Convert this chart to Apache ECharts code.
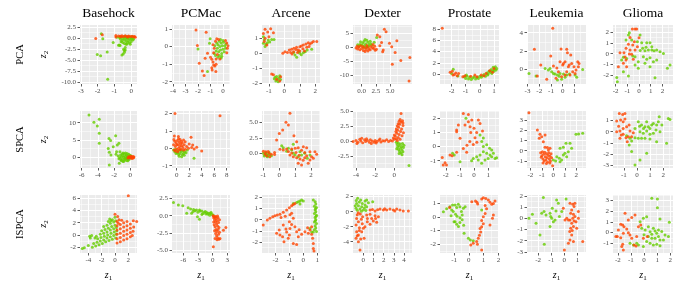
<!DOCTYPE html>
<html><head><meta charset="utf-8">
<script src="https://cdn.jsdelivr.net/npm/echarts@6/dist/echarts.min.js"></script>
<style>html,body{margin:0;padding:0;background:#fff}#c{width:680px;height:290px}</style>
</head><body><div id="c"></div>
<script>
// ---------------- data ----------------
const methods = ['PCA','SPCA','ISPCA'];
const datasets = ['Basehock','PCMac','Arcene','Dexter','Prostate','Leukemia','Glioma'];

// PCA row
const basehock_pca_green = [[-1.78,0.9],[-1.69,-0.23],[-1.07,-1.06],[-1.43,-3.26],[-2.02,-3.8],[-1.82,-4.1],[-1.4,-9.4],[-0.75,-1.7],[-0.7,-1.65],[-0.66,-1.75],[-0.45,-2.6],[-0.4,-2.9],[-0.35,-2.75],[-0.4,-3.3],[-0.55,-3.9],[-0.47,-3.7],[-0.35,-2.2],[-0.3,-1.5],[-0.6,0.1],[-0.5,-0.2],[-0.45,0.2],[-0.4,-0.5],[-0.35,-0.1],[-0.3,-0.8],[-0.3,0.2],[-0.25,-0.3],[-0.2,-1.0],[-0.2,0.0],[-0.15,-0.6],[-0.1,-0.2],[-0.1,-1.2],[-0.05,0.1],[0.0,-0.4],[0.0,-0.9],[0.05,-0.1],[0.1,-0.5],[0.1,0.15],[0.15,-0.3],[-0.55,-0.6],[-0.65,-0.3],[-0.7,0.05],[-0.85,0.1],[-0.5,-1.1],[-0.4,-1.3],[-0.25,-1.4],[-0.05,-1.5],[-0.15,0.3],[0.05,0.25],[-0.35,0.35],[-0.6,-0.9]];
const basehock_pca_red = [[-2.11,-0.15],[-1.72,0.68],[-0.91,0.53],[-0.91,0.2],[-0.75,0.4],[-0.65,0.35],[-0.55,0.45],[-0.45,0.3],[-0.35,0.45],[-0.25,0.3],[-0.15,0.4],[-0.05,0.3],[0.05,0.35],[0.15,0.25],[0.25,0.1],[0.2,0.3],[-0.6,0.25],[-0.2,0.15]];
const pcmac_pca_green = [[-2.0,-0.13],[-1.24,-1.42],[-1.03,0.44],[-1.08,0.19],[-0.6,-0.5],[-0.5,0.2],[-0.45,-0.1],[-0.4,0.1],[-0.35,-0.3],[-0.3,0.3],[-0.25,0.0],[-0.2,-0.2],[-0.15,0.2],[-0.1,-0.4],[-0.05,0.05],[0.0,-0.15],[0.05,0.25],[0.1,-0.3],[0.15,0.05],[0.2,-0.1],[-0.55,-0.25],[-0.3,-0.5],[-0.2,0.4],[0.0,0.35],[-0.65,0.05],[-0.4,-0.6],[0.25,0.15],[-0.1,-0.55],[-0.7,-0.4],[-0.15,-0.65]];
const pcmac_pca_red = [[-2.16,0.95],[-2.05,0.06],[-1.35,0.82],[-1.9,-0.95],[-1.65,-1.39],[-1.51,-1.65],[-1.24,-0.38],[-1.43,-0.66],[-1.0,-0.6],[-0.9,-0.72],[-0.8,-0.87],[-0.75,-1.05],[-0.9,-1.2],[-0.65,-1.1],[-0.87,-1.33],[-0.55,-1.0],[-0.57,-1.42],[-0.7,-0.1],[-0.6,0.3],[-0.5,0.45],[-0.8,0.1],[-0.45,-0.45],[-0.35,0.4],[0.3,0.2],[0.35,-0.1],[0.3,-0.35],[-0.55,-0.7],[-0.75,-0.35],[0.2,0.35],[-0.25,-0.7],[0.4,0.05]];
const arcene_pca_green = [[-1.36,1.11],[-1.04,0.89],[-0.82,0.93],[-0.67,0.93],[-1.36,0.67],[-1.19,0.6],[-1.1,0.71],[-1.25,0.45],[-1.3,0.9],[-0.95,0.75],[-0.6,-1.6],[-0.5,-1.55],[-0.45,-1.75],[-0.35,-1.65],[-0.55,-1.85],[-0.4,-1.9],[-0.25,-1.75],[-0.65,-1.7],[-0.3,-1.5],[0.69,-0.11],[0.8,-0.27],[1.0,0.0],[1.23,0.04],[1.48,0.22],[1.77,0.27],[0.92,0.11],[1.1,-0.1],[1.35,0.1],[0.6,0.05]];
const arcene_pca_red = [[-1.25,1.6],[-0.89,1.64],[-0.71,1.38],[-1.36,1.33],[-1.08,1.42],[-1.0,1.11],[-1.3,0.78],[-1.14,0.56],[-1.25,1.0],[-0.82,-1.38],[-0.71,-1.44],[-0.24,-1.56],[-0.5,-1.73],[-0.3,-1.85],[-0.1,0.0],[0.04,0.11],[0.32,0.22],[0.47,0.27],[0.62,0.33],[0.79,0.4],[0.9,0.22],[1.0,0.44],[1.1,0.49],[1.23,0.56],[1.4,0.62],[1.55,0.71],[1.66,0.62],[1.77,0.71],[1.88,0.78],[2.1,0.78],[0.6,0.1],[0.85,0.05],[1.2,0.3],[1.45,0.4],[0.4,0.05],[1.0,0.15],[0.75,0.25],[1.3,0.15],[1.6,0.45],[0.2,0.05],[0.5,-0.05]];
const dexter_pca_green = [[0.0,0.8],[0.2,1.5],[0.4,2.2],[0.5,0.5],[0.7,1.2],[0.9,2.5],[1.0,0.3],[1.1,1.8],[1.3,1.0],[1.5,2.2],[-0.3,1.0],[-0.5,0.3],[0.3,0.0],[0.8,-0.1],[1.6,1.3],[2.65,3.5],[2.2,1.8],[-0.2,2.0],[0.6,2.8],[1.2,0.4],[-0.7,0.9],[1.8,0.7]];
const dexter_pca_red = [[4.0,6.5],[4.3,5.6],[2.76,4.4],[3.2,3.8],[3.5,1.7],[4.9,1.4],[6.2,2.3],[5.3,0.2],[5.9,-1.9],[5.4,-6.1],[6.9,-4.8],[8.5,-3.7],[8.35,-12.1],[3.8,-1.0],[3.7,-1.6],[2.6,-0.7],[2.1,-0.4],[3.2,0.5],[-1.0,-0.3],[-0.7,-0.6],[-0.5,0.1],[-0.3,-0.9],[0.0,-0.4],[0.3,-1.2],[0.5,-0.2],[0.8,-0.8],[1.0,0.0],[1.3,-0.5],[1.6,0.3],[1.9,-0.2],[2.3,0.4],[0.2,0.3],[-0.2,0.5],[1.1,-1.3],[1.5,-0.9],[0.6,-1.5],[2.0,1.0],[2.4,-1.1],[-0.8,0.4],[0.9,0.6]];
const prostate_pca_green = [[-1.88,0.84],[-1.55,-0.35],[-2.0,0.1],[-1.1,-0.5],[-1.0,-0.8],[-0.9,-0.4],[-0.8,-0.9],[-0.7,-0.6],[-0.6,-1.0],[-0.5,-0.7],[-0.4,-0.5],[-0.3,-0.9],[-0.2,-0.6],[-0.1,-0.8],[0.0,-0.4],[0.1,-0.6],[0.2,-0.3],[0.3,-0.1],[0.4,-0.4],[0.5,0.2],[0.6,0.0],[0.65,0.5],[0.75,0.3],[0.8,0.8],[0.9,0.6],[0.95,1.2],[1.0,0.5],[1.05,0.9],[1.1,1.3],[1.15,0.7],[-0.95,-0.2],[0.55,-0.2],[0.85,0.1],[1.2,1.0]];
const prostate_pca_red = [[-2.66,8.2],[-2.1,0.3],[-1.95,0.5],[-1.8,-0.1],[-1.7,0.2],[-1.6,-0.3],[-1.9,-0.2],[-1.5,0.1],[-1.05,-0.3],[-0.65,-0.4],[-0.35,-0.2],[0.1,-0.2],[0.45,0.1],[0.7,0.6],[0.9,0.3],[1.0,1.0],[-0.2,-0.5],[0.3,-0.3],[-1.2,-0.5]];
const leukemia_pca_green = [[-2.87,-0.48],[-2.27,-0.77],[-1.5,0.07],[-1.22,-0.11],[-0.94,-0.29],[-0.65,-0.55],[-0.45,-0.66],[-0.23,-0.48],[0.06,-0.55],[0.34,-0.66],[0.57,-0.55],[-0.45,-1.21],[1.05,-0.66],[1.19,-0.92],[1.7,-0.04],[-0.79,-0.48],[-1.08,0.07],[-0.09,-1.14],[0.2,-0.92],[-0.3,-0.8]];
const leukemia_pca_red = [[-2.41,2.17],[-0.85,4.48],[-1.87,0.44],[-1.02,1.43],[-0.79,0.33],[-0.14,2.2],[0.34,2.17],[0.4,1.8],[0.68,1.54],[-0.23,0.81],[0.06,0.62],[0.2,0.8],[0.0,0.45],[0.48,0.26],[0.76,0.62],[0.96,0.26],[1.28,0.81],[1.39,0.62],[1.13,-0.11],[0.85,-0.29],[0.62,-0.66],[0.34,-0.29],[0.2,-0.66],[-0.09,-0.84],[-0.37,-0.29],[-0.57,-1.03],[-1.36,-1.14],[-2.16,-0.77],[1.33,0.26],[1.05,-0.48],[0.55,0.45],[-0.5,0.1]];
const glioma_pca_green = [[-0.83,1.97],[-0.91,1.75],[0.09,1.75],[-1.11,1.28],[-0.63,1.28],[-0.14,1.13],[0.23,1.03],[0.66,1.03],[0.94,1.03],[1.09,0.66],[0.31,0.5],[0.51,0.28],[0.8,0.34],[1.09,0.34],[1.29,0.28],[1.51,0.34],[1.8,0.19],[2.09,0.03],[2.66,-1.06],[2.43,-1.37],[1.37,-2.25],[0.37,-0.28],[0.66,-0.53],[0.94,-0.38],[1.23,-0.75],[1.51,-0.6],[-0.06,-0.75],[-0.34,-1.06],[-0.06,-1.37],[-1.34,-1.69],[-0.91,-2.09],[-1.91,-2.22],[-1.86,-2.62],[-1.49,-0.6],[-1.34,-0.34],[-1.06,-0.44],[-0.54,-0.22],[-0.34,-0.28],[0.51,-0.9],[0.94,-1.22],[0.1,0.3],[0.6,0.6]];
const glioma_pca_red = [[-0.57,2.31],[-0.34,2.31],[-0.2,2.31],[0.0,1.5],[-0.77,1.53],[-0.4,1.13],[-0.54,0.81],[-0.77,0.34],[-1.11,0.5],[-1.29,0.1],[-1.63,0.1],[-0.83,-0.03],[-0.63,-0.06],[-1.11,-0.6],[-1.34,-0.9],[-1.77,-1.22],[-1.06,-1.22],[-0.34,0.34],[-0.14,0.65],[-0.49,-0.53],[-0.91,0.88],[-1.2,-0.3]];

// SPCA row
const basehock_spca_green = [[-5.1,12.2],[-4.49,10.1],[-3.83,11],[-4.07,9.0],[-3.83,6.9],[-3.83,4.0],[-2.63,5.4],[-2.43,4.8],[-1.81,6.2],[-2.1,3.0],[-1.6,3.5],[-1.4,4.0],[-2.72,2.5],[-2.59,1.4],[-2.39,0.6],[-1.77,0.8],[-1.69,1.55],[-1.28,1.55],[-0.9,1.2],[-2.59,-2.3],[-1.36,-1.8],[-1.15,-0.9],[-0.9,-1.3],[-0.7,-0.4],[-1.5,0.3],[-1.3,-0.2],[-1.2,0.6],[-1.1,0.1],[-1.0,-0.6],[-0.9,0.4],[-0.8,-0.1],[-0.75,0.9],[-0.7,-0.8],[-0.6,0.2],[-0.55,-0.4],[-0.5,0.6],[-0.45,-1.0],[-0.4,0.0],[-0.35,-0.5],[-0.3,0.4],[-0.25,-0.2],[-0.2,0.8],[-0.15,-0.7],[-0.1,0.1],[-0.05,-0.3],[0.0,0.5],[0.05,-0.1],[0.1,0.2],[-0.6,1.2],[-1.0,0.9],[-0.3,-1.1],[-0.8,-1.2],[-1.1,-1.0],[-0.4,1.0],[0.15,-0.2],[-1.4,-0.5]];
const basehock_spca_red = [[-0.2,0.1],[-0.1,-0.2],[0.0,0.0],[0.1,-0.3],[0.2,0.1],[0.3,-0.1],[0.4,-0.2],[0.45,0.0],[0.25,-0.4],[0.05,0.2],[-0.3,-0.3],[0.35,0.15]];
const pcmac_spca_green = [[-0.5,-0.1],[-0.3,-0.2],[-0.1,-0.3],[0.1,-0.25],[0.3,-0.35],[0.5,-0.3],[0.7,-0.2],[0.9,-0.35],[1.1,-0.3],[1.3,-0.2],[1.5,-0.25],[0.8,-0.48],[2.77,-0.57],[0.2,-0.15],[0.6,-0.1],[1.0,-0.15],[-0.2,-0.05],[0.4,-0.45],[1.2,-0.4],[1.7,-0.1]];
const pcmac_spca_red = [[-0.27,2.0],[6.93,1.87],[-0.37,0.71],[0.27,0.67],[2.29,0.63],[1.1,0.48],[1.35,0.38],[2.56,0.19],[3.2,0.06],[4.0,-0.15],[2.8,-0.04],[1.9,0.0],[1.6,0.1],[-0.5,0.2],[-0.4,-0.1],[-0.3,0.4],[-0.2,0.1],[-0.1,0.3],[0.0,-0.05],[0.1,0.45],[0.2,0.2],[0.3,0.0],[0.4,0.35],[0.5,0.1],[0.6,0.25],[0.7,-0.05],[0.8,0.15],[0.9,0.3],[1.0,0.05],[1.2,0.2],[1.4,-0.05],[0.0,0.2],[0.3,0.55],[-0.2,-0.15],[0.55,0.5],[0.15,-0.2],[0.75,0.4],[1.1,-0.1],[-0.45,0.5],[0.45,-0.1],[2.0,0.25],[2.4,0.05]];
const arcene_spca_green = [[-1.0,0.0],[-0.9,-0.25],[-0.8,-0.15],[-0.75,-0.55],[-0.6,-0.2],[-0.65,0.15],[-0.5,-0.4],[-0.85,0.1],[-0.95,-0.45],[-0.7,-0.35],[0.15,1.24],[0.25,0.9],[0.57,0.8],[0.88,1.45],[0.78,0.55],[0.99,-0.27],[1.19,-0.54],[1.4,-0.27],[1.6,0.0],[1.76,-0.8],[0.88,0.0],[0.46,0.35],[1.93,-0.27],[1.3,0.25]];
const arcene_spca_red = [[0.67,6.45],[0.42,5.0],[0.57,4.57],[0.21,3.76],[0.0,3.2],[-0.17,2.15],[0.92,2.85],[1.09,1.88],[0.04,0.65],[0.25,0.55],[0.46,0.7],[0.78,0.7],[1.0,0.8],[1.19,0.9],[1.51,1.07],[1.72,0.9],[1.4,0.5],[1.6,0.15],[1.93,0.27],[2.24,0.27],[2.35,-0.16],[0.67,-0.27],[0.88,-0.54],[1.09,-0.7],[1.3,-0.9],[1.5,-1.1],[1.4,-1.88],[1.19,-1.6],[1.82,-1.6],[1.93,-1.07],[1.05,0.15],[0.78,0.05],[0.57,0.3],[1.72,-0.4],[2.03,-0.54],[2.14,-0.8],[1.25,-0.3],[1.6,-0.7],[-1.0,0.35],[-0.85,0.25],[-0.65,0.0],[-0.8,-0.4],[-0.6,-0.55],[-0.5,-0.15],[-0.9,-0.1],[-0.7,0.3],[-0.3,-0.2],[-0.3,0.15]];
const dexter_spca_green = [[0.2,-0.2],[0.3,-0.6],[0.35,-1.0],[0.4,-0.3],[0.45,-1.4],[0.5,-0.8],[0.55,-1.7],[0.6,-0.5],[0.65,-1.2],[0.7,-2.0],[0.75,-0.9],[0.8,-1.5],[0.85,-0.4],[0.9,-1.8],[0.95,-1.1],[1.53,-4.1],[0.5,-2.1],[0.8,-2.3],[0.25,-1.3],[1.0,-0.7]];
const dexter_spca_red = [[-4.3,-0.1],[-4.0,0.1],[-3.8,-0.2],[-3.6,0.3],[-3.5,0.0],[-3.3,-0.3],[-3.1,0.2],[-3.0,-0.1],[-2.8,0.1],[-2.6,-0.2],[-2.5,0.2],[-2.3,0.0],[-2.1,-0.2],[-2.0,0.1],[-1.8,-0.1],[-1.6,0.15],[-1.4,-0.15],[-1.2,0.05],[-1.0,0.0],[-0.8,0.2],[-0.6,-0.1],[-0.4,0.1],[-0.2,0.0],[-3.9,-0.4],[-2.9,0.4],[-1.9,-0.35],[-3.4,0.45],[-2.4,-0.4],[-1.5,0.35],[0.0,0.3],[0.1,0.8],[0.2,0.4],[0.25,1.3],[0.3,0.1],[0.35,1.8],[0.4,0.6],[0.45,2.3],[0.5,1.1],[0.55,2.8],[0.6,0.3],[0.65,1.6],[0.7,3.2],[0.75,2.0],[0.8,0.9],[0.85,3.4],[0.9,2.6],[0.95,1.4],[0.7,4.6],[0.5,3.3],[0.3,2.5],[0.2,2.0],[0.6,3.6],[0.9,3.0],[0.4,2.9],[0.15,1.6],[0.0,1.0],[-0.1,0.5]];
const prostate_spca_green = [[-1.52,-0.48],[-1.4,-0.6],[-0.57,2.0],[0.43,0.82],[0.66,0.6],[0.55,0.35],[0.66,0.0],[0.9,0.12],[1.1,-0.12],[1.25,-0.25],[1.37,-0.48],[1.49,-0.84],[1.13,-0.6],[0.9,-0.48],[0.66,-0.37],[0.43,-0.6],[0.19,-0.72],[-0.05,-0.84],[0.54,-1.19],[-0.99,-1.08],[0.3,-0.95],[0.78,-0.95],[1.0,-0.84],[1.25,-0.72],[1.6,-0.8],[-0.17,-1.0]];
const prostate_spca_red = [[-2.25,-0.77],[-2.18,-1.31],[-2.05,-1.15],[-1.95,-1.31],[-1.7,-0.6],[-1.55,-0.65],[-1.23,-0.41],[-1.11,1.52],[-1.23,1.05],[-0.76,2.35],[-0.4,2.28],[-1.23,1.17],[-0.99,0.58],[-0.64,1.52],[-0.4,1.76],[-0.16,1.88],[-0.28,1.4],[0.0,1.3],[0.31,1.88],[0.43,1.64],[-0.23,1.0],[0.07,0.62],[0.19,1.0],[-0.76,-0.13],[-0.5,0.1],[-0.3,0.35],[-0.05,0.15],[-0.52,-0.41],[0.6,1.1],[0.2,0.3]];
const leukemia_spca_green = [[0.58,0.23],[0.87,0.33],[1.1,0.72],[1.45,0.72],[1.97,1.6],[2.2,1.63],[2.55,1.69],[1.01,-0.26],[0.87,-0.42],[1.16,-0.59],[0.52,-0.75],[0.58,-1.07],[0.72,-0.91],[0.0,-0.91],[1.3,-0.1],[1.59,0.23],[0.3,-0.6],[0.2,-1.0]];
const leukemia_spca_red = [[-2.12,3.7],[-1.39,2.02],[-1.16,1.6],[-1.01,1.37],[-0.72,1.53],[-1.22,1.2],[-0.87,0.88],[-0.72,0.33],[-0.52,0.3],[-0.29,0.23],[-0.43,0.07],[-1.1,-0.2],[-1.0,-0.5],[-0.95,-0.1],[-0.9,-0.8],[-0.85,-0.35],[-0.8,-1.0],[-0.75,-0.15],[-0.7,-0.6],[-0.65,-0.9],[-0.6,-0.3],[-0.55,-0.7],[-0.5,-1.1],[-0.45,-0.45],[-0.4,-0.2],[-0.35,-0.8],[-0.3,-0.55],[-0.25,-1.0],[-0.2,-0.3],[-0.15,-0.7],[-0.9,-1.2],[-0.6,-1.24],[-0.06,-1.46],[-1.05,-0.65],[-0.3,-1.2]];
const glioma_spca_green = [[-0.79,-0.36],[-0.53,-0.6],[-0.41,-0.84],[-0.59,-1.2],[-0.15,-0.54],[0.1,-0.6],[-0.15,0.3],[0.1,0.9],[0.35,0.6],[0.61,0.45],[0.74,0.9],[0.99,0.3],[1.25,0.75],[1.5,0.6],[1.63,0.9],[1.7,1.35],[2.39,1.2],[2.52,1.1],[0.23,0.0],[0.48,-0.15],[0.74,0.06],[0.99,-0.24],[1.25,-0.15],[0.35,-0.6],[0.61,-0.6],[0.99,-0.66],[1.5,-0.9],[-0.41,-1.8],[-0.15,-3.0],[0.23,-2.56],[0.74,-1.95],[2.26,-1.05],[0.87,0.45],[1.12,0.6],[1.45,0.15],[1.76,0.0],[0.2,0.5],[0.5,0.3],[1.9,0.6]];
const glioma_spca_red = [[-1.35,1.65],[-1.09,1.56],[-0.92,1.65],[-1.55,0.96],[-1.25,1.05],[-0.92,1.14],[-1.05,0.9],[-1.55,0.0],[-1.3,0.06],[-1.05,0.3],[-0.79,0.45],[-0.53,0.06],[-1.05,-0.24],[-1.3,-0.6],[-0.84,-0.54],[-0.66,-0.45],[-0.74,-0.9],[-0.41,-0.45],[-0.28,-0.09],[-1.4,0.5],[-0.6,0.6],[-1.2,-0.3]];

// ISPCA row
const basehock_ispca_green = [[-4.9,-2.2],[-4.6,-2.1],[-4.0,-1.7],[-3.7,-0.5],[-3.5,-0.1],[-3.8,-0.2],[-3.0,-0.5],[-2.8,-0.2],[-3.4,-2.0],[-2.9,-1.8],[-2.4,-1.6],[-1.9,-1.4],[-1.4,-1.1],[-0.9,-0.9],[-0.4,-0.7],[0.1,-0.5],[-3.2,-1.4],[-2.7,-1.2],[-2.2,-1.0],[-1.7,-0.8],[-1.2,-0.5],[-0.7,-0.3],[-0.2,-0.1],[0.2,0.1],[-2.6,-0.6],[-2.1,-0.4],[-1.6,-0.2],[-1.1,0.0],[-0.6,0.3],[-0.1,0.5],[0.25,0.7],[-2.2,0.1],[-1.7,0.3],[-1.2,0.5],[-0.7,0.8],[-0.2,1.0],[0.2,1.2],[-2.0,0.7],[-1.5,0.9],[-1.0,1.1],[-0.5,1.4],[0.0,1.6],[-1.7,1.4],[-1.2,1.6],[-0.7,1.9],[-0.2,2.1],[0.1,2.3],[-0.8,2.6],[-0.4,2.5],[0.0,2.9],[-1.0,2.2],[-0.6,2.3]];
const basehock_ispca_red = [[2.0,6.4],[0.0,3.4],[2.75,2.3],[3.25,2.2],[0.3,-1.3],[0.8,-1.1],[1.3,-0.8],[1.8,-0.6],[2.3,-0.3],[2.6,-0.1],[0.3,-0.6],[0.8,-0.4],[1.3,-0.1],[1.8,0.1],[2.3,0.4],[2.7,0.6],[0.3,0.1],[0.8,0.3],[1.3,0.6],[1.8,0.8],[2.3,1.1],[2.8,1.3],[0.3,0.8],[0.8,1.0],[1.3,1.3],[1.8,1.5],[2.3,1.8],[0.3,1.5],[0.8,1.7],[1.3,2.0],[1.8,2.2],[0.3,2.2],[0.6,2.5],[0.4,3.0],[0.5,1.9],[1.0,2.4]];
const pcmac_ispca_green = [[-8.0,1.9],[-7.0,1.55],[-6.1,1.45],[-5.0,1.16],[-4.5,0.97],[-3.9,0.9],[-3.6,0.72],[-3.3,0.82],[-2.7,0.82],[-2.6,0.68],[-2.2,0.68],[-1.7,0.5],[-1.2,0.48],[-0.9,0.34],[-0.5,0.39],[-0.2,0.2],[0.1,0.1],[-5.3,0.34],[-4.3,0.34],[-3.1,-0.14],[-2.7,-0.53],[-2.2,0.19],[-1.5,0.6],[-1.0,0.2],[-0.6,0.05],[-3.0,0.5],[-2.0,0.3],[-1.4,0.25],[-0.3,0.45],[-4.0,0.6]];
const pcmac_ispca_red = [[0.1,0.0],[0.2,-0.3],[0.3,-0.1],[0.4,-0.6],[0.5,-0.2],[0.6,-0.9],[0.7,-0.4],[0.8,-1.2],[0.9,-0.7],[1.0,-1.5],[1.1,-0.3],[1.2,-1.0],[1.3,-1.7],[0.3,-1.3],[0.5,-1.6],[0.7,-2.0],[0.9,-2.3],[1.1,-2.0],[0.6,-2.6],[0.8,-2.9],[1.0,-3.2],[1.2,-2.7],[0.5,-3.3],[0.9,-3.5],[1.3,-3.4],[1.5,-3.3],[0.14,-4.5],[2.2,-2.1],[2.7,-1.7],[0.2,-0.9],[1.4,-0.6],[0.4,-2.2],[1.4,-2.4],[0.65,-0.1],[1.0,-0.05]];
const arcene_ispca_green = [[-0.72,1.46],[-0.48,1.55],[-0.36,1.61],[-0.24,1.67],[-0.12,1.76],[0.0,1.67],[-0.24,1.4],[0.72,1.76],[0.85,1.6],[0.9,1.4],[0.8,1.2],[0.95,1.1],[0.85,0.9],[0.9,0.7],[0.8,0.55],[0.95,0.4],[0.85,0.2],[0.9,0.0],[0.8,-0.2],[0.95,-0.35],[0.85,-0.55],[0.9,-0.75],[0.8,-0.9],[0.95,-1.05],[0.72,-1.1],[0.48,-0.78],[0.6,-1.1],[0.88,1.0],[0.92,0.3],[0.86,-0.1]];
const arcene_ispca_red = [[-2.88,-0.48],[-2.59,-0.03],[-2.4,0.12],[-2.2,0.27],[-2.04,0.36],[-1.87,0.42],[-1.68,0.48],[-1.44,0.66],[-1.2,0.87],[-1.0,1.06],[-0.84,1.25],[-0.72,1.37],[-0.6,1.46],[-1.3,0.3],[-0.96,0.45],[-0.84,0.57],[-1.6,0.2],[-1.92,-1.22],[-1.68,-1.37],[-1.49,-1.52],[-1.39,-1.97],[-1.08,-1.67],[-1.0,-1.37],[-0.96,-0.78],[-0.84,-0.42],[-1.0,-0.18],[-0.72,0.12],[-0.6,-0.63],[-0.48,-1.07],[-0.72,-2.12],[-0.48,-2.21],[-0.36,-1.52],[-0.12,-1.31],[0.12,-1.07],[0.36,-1.22],[0.48,-0.93],[0.6,-1.31],[0.67,-1.67],[0.72,-2.12],[0.72,-2.57],[0.77,-2.81],[0.6,-0.63],[0.31,-0.72],[-1.44,-0.48],[-1.25,-0.84],[-1.73,-0.93],[-0.3,-0.9],[-1.2,-1.1]];
const dexter_ispca_green = [[-0.56,1.78],[-0.26,1.55],[0.16,1.42],[0.33,1.55],[0.92,1.33],[-0.66,1.1],[-0.49,0.8],[-0.16,0.67],[0.16,0.9],[0.33,0.67],[-0.72,0.45],[-0.33,0.35],[0.0,0.22],[-0.6,0.2],[-0.1,1.1],[0.1,0.5],[-0.4,1.3],[-0.2,0.05],[-0.7,1.5],[0.5,1.2],[-0.8,0.8],[0.25,0.15]];
const dexter_ispca_red = [[0.66,0.22],[1.15,0.1],[1.64,0.36],[1.97,0.22],[2.3,0.22],[2.62,0.36],[2.95,0.22],[3.28,0.36],[3.6,0.22],[3.93,0.1],[4.43,0.1],[1.4,0.25],[2.1,0.4],[3.1,0.1],[0.9,0.3],[-0.07,-0.67],[0.33,-0.45],[0.66,-0.36],[0.82,-0.9],[1.15,-0.54],[1.48,-0.67],[0.98,-1.25],[1.31,-1.42],[0.39,-1.33],[0.66,-1.69],[0.4,-0.9],[1.2,-0.9],[-0.66,-0.9],[-0.49,-1.33],[-0.72,-1.78],[-0.39,-2.14],[-0.66,-2.67],[-0.49,-3.1],[-0.72,-3.56],[-0.26,-3.65],[-0.49,-4.0],[-0.16,-2.67],[0.0,-2.22],[0.16,-2.0],[0.07,-3.56],[-0.33,-5.1],[-0.3,-0.3],[-0.6,-0.4],[-0.2,-1.0],[-0.5,-0.15],[-0.1,-1.6],[-0.4,-2.5],[-0.6,-3.2]];
const prostate_ispca_green = [[-1.72,0.39],[-1.5,0.6],[-1.28,0.75],[-1.1,0.88],[-0.93,0.88],[-0.82,0.7],[-1.05,0.4],[-1.16,0.51],[-0.71,0.93],[-0.6,0.75],[-0.37,0.64],[-0.25,0.75],[-0.9,0.2],[-0.8,0.05],[-0.6,-0.05],[-0.45,0.15],[-1.0,-0.35],[-0.93,-0.35],[-0.82,-0.54],[-0.7,-0.7],[-0.6,-0.4],[-0.45,-0.2],[-0.35,-0.6],[-0.32,-1.2],[-0.03,-1.57],[0.1,-1.7],[0.3,-1.75],[0.87,0.51],[-1.2,0.1],[-0.5,0.4]];
const prostate_ispca_red = [[0.2,1.13],[0.45,1.18],[0.55,1.08],[0.87,1.32],[0.98,1.42],[1.15,1.37],[1.32,1.25],[1.43,1.08],[1.55,0.93],[1.66,1.0],[1.77,1.18],[1.66,0.15],[1.6,-0.1],[1.43,-0.59],[0.98,0.02],[0.87,-0.25],[0.98,-0.5],[0.87,-0.71],[0.76,-0.85],[0.8,-1.1],[0.72,-1.35],[0.64,-1.57],[0.53,-1.8],[0.58,-2.0],[0.3,-1.93],[0.13,-2.06],[0.87,-2.43],[1.1,0.25],[1.2,0.6],[1.1,0.85],[-1.3,0.7],[0.6,0.95]];
const leukemia_ispca_green = [[-2.7,0.0],[-2.44,0.36],[-2.16,-0.45],[-1.6,1.85],[-1.86,-1.49],[-1.53,-2.32],[-1.73,0.45],[-1.55,0.6],[-1.09,0.45],[-1.04,0.15],[-0.96,0.0],[-0.84,-0.3],[-0.71,-0.15],[-0.59,1.64],[-0.46,1.34],[-0.38,0.15],[-0.2,0.6],[0.13,1.73],[-1.09,-0.74],[-0.92,0.89],[-0.64,0.65],[-1.4,0.3]];
const leukemia_ispca_red = [[0.43,1.34],[0.64,1.25],[0.8,1.34],[0.74,1.05],[0.56,0.74],[0.48,0.45],[0.69,0.36],[0.8,0.15],[0.64,0.0],[0.43,-0.15],[0.74,-0.24],[0.89,-0.3],[0.56,-0.45],[0.31,-0.15],[0.69,-0.74],[0.48,-0.89],[0.94,-0.89],[0.41,-1.19],[0.56,-1.49],[0.43,-1.93],[0.69,-2.08],[0.31,-2.23],[0.0,-2.83],[1.4,-2.08],[-0.08,0.89],[0.05,-0.15],[0.18,0.0],[1.07,0.6],[1.07,0.0],[0.6,-1.1]];
const glioma_ispca_green = [[0.59,3.22],[1.02,3.16],[1.02,2.34],[1.22,1.28],[1.93,0.97],[-0.3,1.03],[-0.05,1.34],[0.2,1.5],[-0.18,0.4],[0.08,0.25],[0.33,0.56],[0.46,0.09],[0.59,-0.16],[0.71,0.4],[0.84,0.16],[0.97,-0.06],[1.1,0.25],[0.33,-0.37],[0.59,-0.53],[0.84,-0.53],[1.1,-0.37],[1.22,-0.69],[0.46,-1.0],[0.71,-1.16],[0.97,-1.09],[1.22,-1.22],[1.48,-0.69],[1.6,-0.22],[1.86,-0.37],[-0.56,-1.0],[-0.43,-1.16],[-0.05,-1.31],[0.2,-0.84],[-0.81,-1.16],[-1.07,-1.0],[0.0,-0.2],[1.35,0.1]];
const glioma_ispca_red = [[-2.04,-0.37],[-2.15,-0.37],[-1.78,-0.47],[-1.96,0.25],[-1.63,0.72],[-1.45,1.81],[-1.78,0.78],[-1.53,0.56],[-1.32,0.34],[-1.58,-0.06],[-1.63,-1.09],[-1.7,-1.31],[-1.58,-1.63],[-1.2,1.19],[-0.94,1.41],[-0.69,1.66],[-1.07,-0.22],[-0.94,-0.53],[-0.76,-1.16],[-0.61,-1.25],[-0.43,0.56],[-0.25,0.72],[-0.05,-0.53],[0.25,-0.37],[-0.56,-0.37],[-1.2,0.0]];

// tick labels (per row, per column)
const pca_xticks = [[-3,-2,-1,0],[-4,-3,-2,-1,0],[-1,0,1,2],[0,2.5,5],[-2,-1,0,1],[-3,-2,-1,0,1],[-2,-1,0,1,2]];
const pca_yticks = [[-10,-7.5,-5,-2.5,0,2.5],[-2,-1,0,1],[-2,-1,0,1],[-10,-5,0,5],[0,2,4,6,8],[0,2,4],[-2,-1,0,1,2]];
const spca_xticks = [[-6,-4,-2,0],[0,2,4,6,8],[-1,0,1,2],[-4,-2,0],[-2,-1,0,1],[-2,-1,0,1,2],[-1,0,1,2]];
const spca_yticks = [[0,5,10],[-1,0,1,2],[0,2.5,5],[-2.5,0,2.5,5],[-1,0,1,2],[-1,0,1,2,3],[-3,-2,-1,0,1]];
const ispca_xticks = [[-4,-2,0,2],[-6,-3,0,3],[-2,-1,0,1],[0,1,2,3,4],[-1,0,1,2],[-2,-1,0,1],[-2,-1,0,1,2]];
const ispca_yticks = [[-2,0,2,4,6],[-5,-2.5,0,2.5],[-2,-1,0,1,2],[-4,-2,0,2],[-2,-1,0,1],[-3,-2,-1,0,1,2],[-1,0,1,2,3]];

// axis limits [xmin,xmax,ymin,ymax]
const pca_limits = [[-3.05,0.35,-10.5,2.9],[-4.08,0.56,-2.13,1.23],[-1.45,2.31,-2.05,1.89],[-1.53,8.87,-13.2,8.0],[-2.82,1.36,-1.79,8.77],[-3.04,1.98,-1.65,4.85],[-2.23,2.91,-2.84,2.69]];
const spca_limits = [[-6.21,0.83,-3.2,13.4],[-0.75,8.53,-1.13,2.14],[-1.09,2.56,-2.37,6.83],[-4.31,1.84,-4.52,5.03],[-2.41,1.77,-1.52,2.52],[-2.29,2.84,-1.69,3.87],[-1.83,2.75,-3.28,1.87]];
const ispca_limits = [[-5.25,3.3,-2.94,6.52],[-8.3,3.54,-5.41,3.0],[-2.97,1.2,-2.98,2.21],[-1.02,4.79,-5.51,2.22],[-1.95,2.04,-2.65,1.62],[-2.85,1.65,-3.1,2.08],[-2.37,2.21,-1.91,3.53]];

// ---------------- layout ----------------
const colLeft = [80,172,262,353,440,527,613];
const colWidth = [57,58,58,59,59,59,60];
const rowTop = [25,111,195];
const rowHeight = [59,57,58];
const GREEN = '#66CD00', RED = '#FF4500';
const FONT = 'Liberation Serif';

const rows = [
  {greens:[basehock_pca_green,pcmac_pca_green,arcene_pca_green,dexter_pca_green,prostate_pca_green,leukemia_pca_green,glioma_pca_green],
   reds:[basehock_pca_red,pcmac_pca_red,arcene_pca_red,dexter_pca_red,prostate_pca_red,leukemia_pca_red,glioma_pca_red],
   xt:pca_xticks, yt:pca_yticks, lim:pca_limits},
  {greens:[basehock_spca_green,pcmac_spca_green,arcene_spca_green,dexter_spca_green,prostate_spca_green,leukemia_spca_green,glioma_spca_green],
   reds:[basehock_spca_red,pcmac_spca_red,arcene_spca_red,dexter_spca_red,prostate_spca_red,leukemia_spca_red,glioma_spca_red],
   xt:spca_xticks, yt:spca_yticks, lim:spca_limits},
  {greens:[basehock_ispca_green,pcmac_ispca_green,arcene_ispca_green,dexter_ispca_green,prostate_ispca_green,leukemia_ispca_green,glioma_ispca_green],
   reds:[basehock_ispca_red,pcmac_ispca_red,arcene_ispca_red,dexter_ispca_red,prostate_ispca_red,leukemia_ispca_red,glioma_ispca_red],
   xt:ispca_xticks, yt:ispca_yticks, lim:ispca_limits}
];

function minorsOf(ticks, lo, hi) {
  const step = ticks[1] - ticks[0];
  const out = [ticks[0] - step / 2];
  for (let i = 0; i < ticks.length - 1; i++) out.push((ticks[i] + ticks[i + 1]) / 2);
  out.push(ticks[ticks.length - 1] + step / 2);
  return out.filter(v => v > lo && v < hi);
}
function majorAxis(gi, pos, lo, hi, ticks) {
  const dec = ticks.some(t => !Number.isInteger(t)) ? 1 : 0;
  return {
    type: 'value', gridIndex: gi, position: pos, min: lo, max: hi, scale: true,
    axisLine: {show: false, onZero: false},
    axisTick: {show: true, length: 2.5, lineStyle: {color: '#333333', width: 0.8}, customValues: ticks},
    axisLabel: {show: true, customValues: ticks, formatter: v => (+v).toFixed(dec),
      color: '#4D4D4D', fontSize: 7, fontFamily: FONT, margin: pos === 'left' ? 4 : 3.5},
    splitLine: {show: true, lineStyle: {color: '#FFFFFF', width: 1}},
    minorTick: {show: false}, minorSplitLine: {show: false}
  };
}
function minorAxis(gi, pos, lo, hi, ticks) {
  return {
    type: 'value', gridIndex: gi, position: pos, min: lo, max: hi, scale: true,
    axisLine: {show: false, onZero: false},
    axisTick: {show: false, customValues: minorsOf(ticks, lo, hi)},
    axisLabel: {show: false},
    splitLine: {show: true, lineStyle: {color: '#FFFFFF', width: 0.5}},
    minorTick: {show: false}, minorSplitLine: {show: false}
  };
}

const grids = [], xAxes = [], yAxes = [], series = [];
rows.forEach((row, r) => {
  for (let c = 0; c < 7; c++) {
    const gi = grids.length;
    const L = row.lim[c];
    grids.push({left: colLeft[c], top: rowTop[r], width: colWidth[c], height: rowHeight[r],
      show: true, backgroundColor: '#EBEBEB', borderWidth: 0, containLabel: false, outerBoundsMode: 'none'});
    const xi = xAxes.length, yi = yAxes.length;
    xAxes.push(minorAxis(gi, 'bottom', L[0], L[1], row.xt[c]));
    xAxes.push(majorAxis(gi, 'bottom', L[0], L[1], row.xt[c]));
    yAxes.push(minorAxis(gi, 'left', L[2], L[3], row.yt[c]));
    yAxes.push(majorAxis(gi, 'left', L[2], L[3], row.yt[c]));
    series.push({type: 'scatter', xAxisIndex: xi + 1, yAxisIndex: yi + 1, data: row.greens[c],
      symbol: 'circle', symbolSize: 3, itemStyle: {color: GREEN}, silent: true, z: 2});
    series.push({type: 'scatter', xAxisIndex: xi + 1, yAxisIndex: yi + 1, data: row.reds[c],
      symbol: 'circle', symbolSize: 3, itemStyle: {color: RED}, silent: true, z: 3});
  }
});

const graphic = [];
datasets.forEach((name, c) => {
  graphic.push({type: 'text', x: colLeft[c] + colWidth[c] / 2, y: 13,
    style: {text: name, fontSize: 13.5, fontFamily: FONT, fill: '#000', align: 'center', verticalAlign: 'middle'}});
  graphic.push({type: 'text', x: colLeft[c] + colWidth[c] / 2, y: 276,
    style: {text: '{i|z}{s|1}', align: 'center', verticalAlign: 'middle', fill: '#000',
      rich: {i: {fontSize: 10, fontStyle: 'italic', fontFamily: FONT, fill: '#000', verticalAlign: 'bottom', padding: [0, 0, 2, 0]},
             s: {fontSize: 7, fontFamily: FONT, fill: '#000', verticalAlign: 'bottom'}}}});
});
methods.forEach((m, r) => {
  const cy = rowTop[r] + rowHeight[r] / 2;
  graphic.push({type: 'text', x: 20, y: cy, rotation: Math.PI / 2,
    style: {text: m, fontSize: 10.5, fontFamily: FONT, fill: '#000', align: 'center', verticalAlign: 'middle'}});
  graphic.push({type: 'text', x: 44, y: cy, rotation: Math.PI / 2,
    style: {text: '{i|z}{s|2}', align: 'center', verticalAlign: 'middle', fill: '#000',
      rich: {i: {fontSize: 10, fontStyle: 'italic', fontFamily: FONT, fill: '#000', verticalAlign: 'bottom', padding: [0, 0, 2, 0]},
             s: {fontSize: 7, fontFamily: FONT, fill: '#000', verticalAlign: 'bottom'}}}});
});

const chart = echarts.init(document.getElementById('c'), null, {renderer: 'canvas', width: 680, height: 290});
chart.setOption({
  animation: false,
  backgroundColor: '#FFFFFF',
  grid: grids, xAxis: xAxes, yAxis: yAxes, series: series, graphic: graphic
});
</script>
</body></html>
